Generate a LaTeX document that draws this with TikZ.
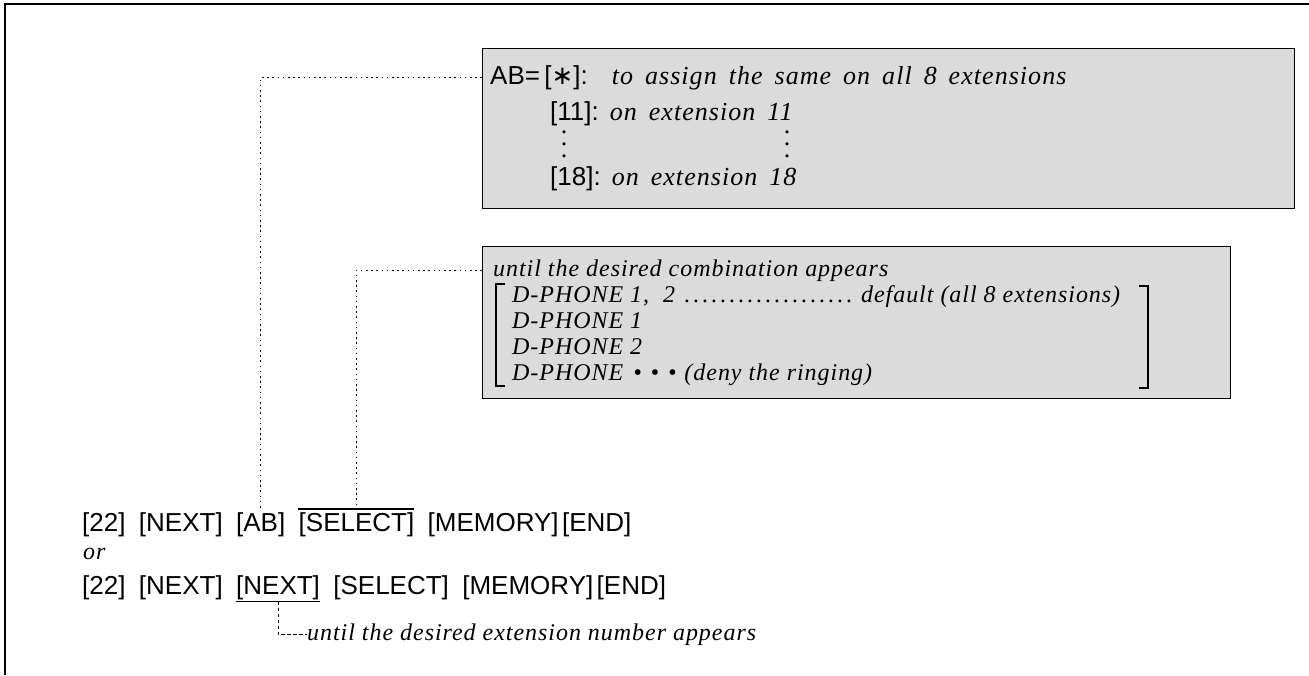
\documentclass[tikz,border=0pt]{standalone}
\usepackage{fontspec}
\setmainfont{Liberation Serif}
\setsansfont{Liberation Sans}
\newfontfamily\dejavu{DejaVu Sans}
\newfontfamily\boxit[LetterSpace=4]{Liberation Serif}
\newcommand{\widesp}{\spaceskip=12pt plus 2pt\relax}
\begin{document}
\begin{tikzpicture}[x=1pt,y=-1pt,
  key/.style={font=\sffamily\fontsize{26}{30}\selectfont, inner sep=0pt, anchor=base west},
  itone/.style={font=\boxit\itshape\fontsize{26}{30}\selectfont, inner sep=0pt, anchor=base west},
  ittwo/.style={font=\boxit\itshape\fontsize{24}{28}\selectfont, inner sep=0pt, anchor=base west},
  dotnode/.style={font=\fontsize{26}{26}\selectfont, inner sep=0pt, anchor=base},
  greybox/.style={draw, line width=1.4pt, fill=black!14, anchor=north west, inner sep=0pt},
  dotline/.style={line width=1.3pt, dash pattern=on 1.6pt off 3.6pt},
  dashline/.style={line width=0.9pt, dash pattern=on 3.5pt off 2.5pt},
  frameline/.style={line width=1.6pt},
  brk/.style={line width=1.1pt}]
\useasboundingbox (0,0) rectangle (1309,675);
\draw[frameline] (5,675) -- (5,4) -- (1309,4);

% box 1
\node[greybox, minimum width=812pt, minimum height=160pt] (box1) at (482,48) {};
\node[itone] (ab) at (490,84) {\widesp{\upshape\sffamily AB=\,[{\dejavu ∗}]:}\hspace{24pt}to assign the same on all 8 extensions};
\node[itone] (l11) at (550,120) {\widesp{\upshape\sffamily [11]:}\hspace{11pt}on extension 11};
\foreach \i/\yy in {1/133,2/145,3/157} {
  \node[dotnode] (va\i) at (564,\yy) {.};
  \node[dotnode] (vb\i) at (787,\yy) {.};
}
\node[itone] (l18) at (550,185) {\widesp{\upshape\sffamily [18]:}\hspace{11pt}on extension 18};

% box 2
\node[greybox, minimum width=748pt, minimum height=152pt] (box2) at (482,246) {};
\node[ittwo] (until) at (493,276) {until the desired combination appears};
\node[ittwo] (dp1) at (512,302) {\hbox to 608pt{D-PHONE 1, \ 2\leaders\hbox to 9pt{\hss.\hss}\hfill default (all 8 extensions)}};
\node[ittwo] (dp2) at (512,328) {D-PHONE 1};
\node[ittwo] (dp3) at (512,354) {D-PHONE 2};
\node[ittwo] (dp4) at (512,380) {D-PHONE\hspace{10pt}•\hspace{9pt}•\hspace{9pt}•\hspace{8pt}(deny the ringing)};
\draw[brk] (505,284) -- (496,284) -- (496,386) -- (505,386);
\draw[brk] (1139,286) -- (1148,286) -- (1148,388) -- (1139,388);

% key sequence 1
\node[key] (a22) at (82,531) {[22]};
\node[key] (anx) at ([xshift=13pt]a22.base east) {[NEXT]};
\node[key] (aab) at ([xshift=13pt]anx.base east) {[AB]};
\node[key] (asel) at ([xshift=13pt]aab.base east) {[SELECT]};
\node[key] (amem) at ([xshift=13pt]asel.base east) {[MEMORY]};
\node[key] (aend) at ([xshift=3pt]amem.base east) {[END]};
\draw[line width=1.1pt] ([yshift=3pt]asel.north west) -- ([yshift=3pt]asel.north east);

\node[ittwo] (or) at (83,559) {or};

% key sequence 2
\node[key] (b22) at (82,594) {[22]};
\node[key] (bnx) at ([xshift=13pt]b22.base east) {[NEXT]};
\node[key] (bnx2) at ([xshift=13pt]bnx.base east) {[NEXT]};
\node[key] (bsel) at ([xshift=13pt]bnx2.base east) {[SELECT]};
\node[key] (bmem) at ([xshift=13pt]bsel.base east) {[MEMORY]};
\node[key] (bend) at ([xshift=3pt]bmem.base east) {[END]};
\draw[line width=1.1pt] ([yshift=-2pt]bnx2.south west) -- ([yshift=-2pt]bnx2.south east);

% connectors
\coordinate (c1) at (box1.west |- ab.west);
\draw[dotline] (c1) -| ([yshift=4pt]aab.north);
\coordinate (c2) at (box2.west |- until.west);
\draw[dotline] (c2) -| ([yshift=4pt]asel.north);

\node[ittwo] (note) at (307,640) {until the desired extension number appears};
\draw[dashline] ([yshift=-2pt]bnx2.south) |- (note.west);
\end{tikzpicture}
\end{document}
